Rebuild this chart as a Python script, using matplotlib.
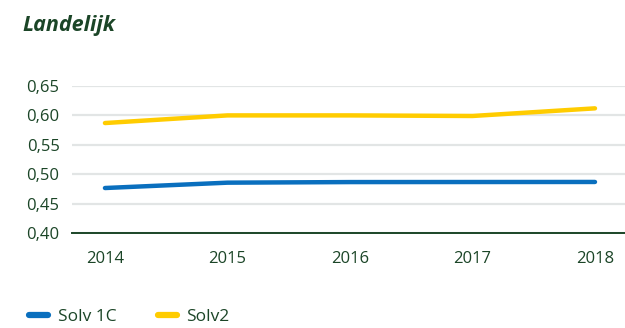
import matplotlib
matplotlib.use("Agg")
import matplotlib.pyplot as plt
from matplotlib.ticker import FuncFormatter

plt.rcParams["font.family"] = ["Open Sans", "DejaVu Sans"]

GREEN = "#1b4527"
GRID = "#e2e5e5"
BLUE = "#0a6fbe"
YELLOW = "#ffcc00"

years = ["2014", "2015", "2016", "2017", "2018"]
solv_1c = [0.4765, 0.4856, 0.4866, 0.4867, 0.4868]
solv_2 = [0.587, 0.600, 0.600, 0.599, 0.612]
yticks = [0.40, 0.45, 0.50, 0.55, 0.60, 0.65]

fig = plt.figure(figsize=(6.25, 3.28), dpi=100)
ax = fig.add_axes([72 / 625, 1 - 233 / 328, 553 / 625, 147 / 328])

x = list(range(len(years)))
ax.plot(x, solv_1c, color=BLUE, lw=3.2, solid_capstyle="round", label="Solv 1C", clip_on=False)
ax.plot(x, solv_2, color=YELLOW, lw=3.2, solid_capstyle="round", label="Solv2", clip_on=False)

ax.set_xlim(-0.269, 4.245)
ax.set_ylim(0.40, 0.65)
ax.set_yticks(yticks)
ax.yaxis.set_major_formatter(FuncFormatter(lambda v, _: f"{v:.2f}".replace(".", ",")))
ax.set_xticks(x)
ax.set_xticklabels(years)
ax.grid(axis="y", color=GRID, lw=1.6)
ax.set_axisbelow(True)
for side in ("top", "right", "left"):
    ax.spines[side].set_visible(False)
ax.spines["bottom"].set_color(GREEN)
ax.spines["bottom"].set_linewidth(1.4)
ax.tick_params(axis="both", length=0, labelsize=12, colors=GREEN)
ax.tick_params(axis="y", pad=9)
ax.tick_params(axis="x", pad=13)

fig.text(22 / 625, 1 - 25 / 328, "Landelijk", fontsize=15.5, fontweight="bold",
         fontstyle="italic", color=GREEN, va="center", ha="left")

leg = fig.legend(loc="center left", bbox_to_anchor=(22 / 625, 1 - 317 / 328), ncol=2,
                 frameon=False, fontsize=12.5, handlelength=1.1, handletextpad=0.55,
                 columnspacing=2.4, borderaxespad=0)
for h in leg.legend_handles:
    h.set_linewidth(4.5)
for t in leg.get_texts():
    t.set_color(GREEN)

fig.savefig("out.png", dpi=100, facecolor="white")
